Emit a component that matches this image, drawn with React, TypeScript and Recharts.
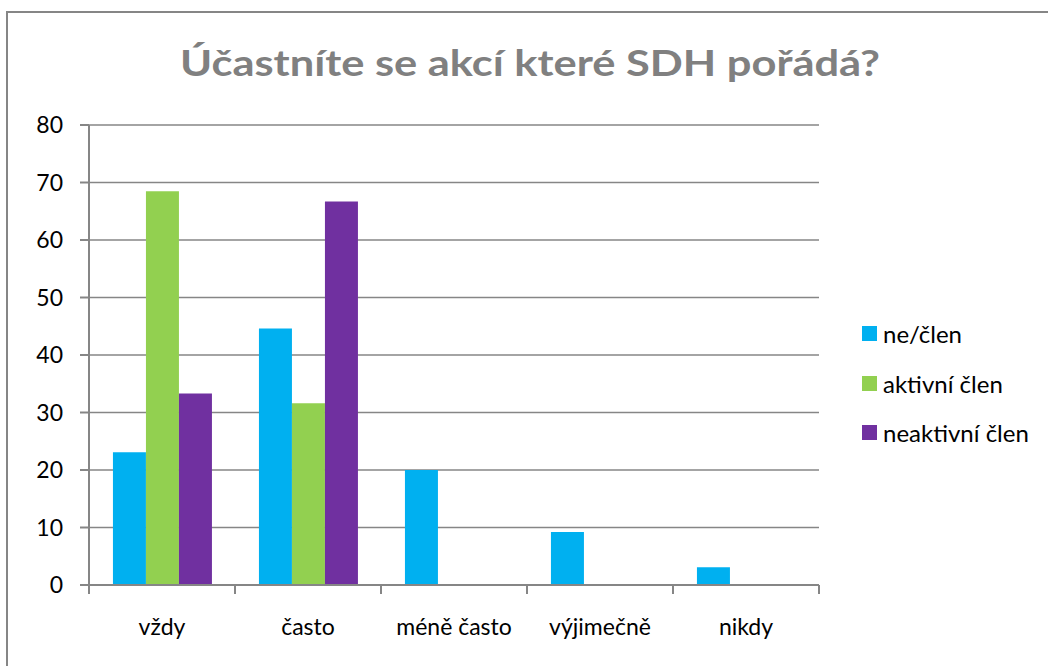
import React from "react";
import { BarChart, Bar, XAxis, YAxis, CartesianGrid } from "recharts";

const categories = ["vždy", "často", "méně často", "výjimečně", "nikdy"];
const nonMember = [23.1, 44.6, 20, 9.2, 3.1];
const activeMember = [68.5, 31.6, 0, 0, 0];
const inactiveMember = [33.3, 66.7, 0, 0, 0];
const yTicks = [0, 10, 20, 30, 40, 50, 60, 70, 80];
const seriesNames = ["ne/člen", "aktivní člen", "neaktivní člen"];
const colors = ["#00B0F0", "#92D050", "#7030A0"];

const data = categories.map((c, i) => ({
  name: c,
  a: nonMember[i],
  b: activeMember[i],
  c: inactiveMember[i],
}));

const W = 1048;
const H = 666;
const M = { top: 125, right: 229, bottom: 21, left: 0 };
const Y_W = 89;
const PLOT_W = W - M.left - M.right - Y_W;
const GRID = "#868686";
const FONT = "Lato, 'Open Sans', sans-serif";

const XTick = (props: any) => {
  const { x, y, payload, index } = props;
  const bw = PLOT_W / categories.length;
  return (
    <g>
      <line x1={x - bw / 2} x2={x - bw / 2} y1={y} y2={y + 9} stroke={GRID} strokeWidth={2} />
      {index === categories.length - 1 && (
        <line x1={x + bw / 2} x2={x + bw / 2} y1={y} y2={y + 9} stroke={GRID} strokeWidth={2} />
      )}
      <text x={x} y={y + 50} textAnchor="middle" fill="#000" fontSize={23} fontFamily={FONT}>
        {payload.value}
      </text>
    </g>
  );
};

export default function App() {
  return (
    <div style={{ position: "absolute", left: 0, top: 0, width: W, height: H, overflow: "hidden", background: "#fff" }}>
      <div
        style={{
          position: "absolute",
          left: 6,
          top: 11,
          width: 1200,
          height: 800,
          border: `2px solid ${GRID}`,
          boxSizing: "border-box",
        }}
      />
      <svg style={{ position: "absolute", left: 0, top: 0 }} width={W} height={110}>
        <text
          x={530}
          y={76}
          textAnchor="middle"
          fill="#808080"
          fontSize={37}
          fontWeight="bold"
          fontFamily={FONT}
          textLength={700}
          lengthAdjust="spacingAndGlyphs"
        >
          Účastníte se akcí které SDH pořádá?
        </text>
      </svg>
      <div style={{ position: "absolute", left: 0, top: 0 }}>
        <BarChart width={W} height={H} data={data} margin={M} barCategoryGap="16.4%" barGap={0}>
          <CartesianGrid vertical={false} stroke={GRID} strokeWidth={1.5} />
          <XAxis
            dataKey="name"
            interval={0}
            tickLine={false}
            tickSize={0}
            tickMargin={0}
            height={60}
            axisLine={{ stroke: GRID, strokeWidth: 2 }}
            tick={<XTick />}
          />
          <YAxis
            width={Y_W}
            domain={[0, 80]}
            ticks={yTicks}
            interval={0}
            tickSize={9}
            tickMargin={17}
            axisLine={{ stroke: GRID, strokeWidth: 2 }}
            tickLine={{ stroke: GRID, strokeWidth: 2 }}
            tick={{ fill: "#000", fontSize: 23, fontFamily: FONT }}
          />
          <Bar dataKey="a" name={seriesNames[0]} fill={colors[0]} isAnimationActive={false} />
          <Bar dataKey="b" name={seriesNames[1]} fill={colors[1]} isAnimationActive={false} />
          <Bar dataKey="c" name={seriesNames[2]} fill={colors[2]} isAnimationActive={false} />
        </BarChart>
      </div>
      <div style={{ position: "absolute", left: 862, top: 309, fontFamily: FONT, fontSize: 24, color: "#000" }}>
        {seriesNames.map((n, i) => (
          <div key={n} style={{ display: "flex", alignItems: "center", height: 49.5 }}>
            <span style={{ width: 15, height: 15, background: colors[i], display: "inline-block", marginRight: 6 }} />
            <span>{n}</span>
          </div>
        ))}
      </div>
    </div>
  );
}
